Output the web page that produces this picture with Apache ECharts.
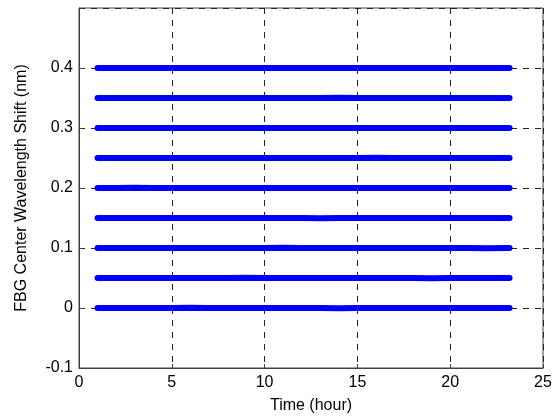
<!DOCTYPE html>
<html><head><meta charset="utf-8">
<script src="https://cdn.jsdelivr.net/npm/echarts@6/dist/echarts.min.js"></script>
<style>html,body{margin:0;padding:0;background:#fff}#c{width:555px;height:420px}</style>
</head><body><div id="c"></div>
<script>
var time = [1,2,3,4,5,6,7,8,9,10,11,12,13,14,15,16,17,18,19,20,21,22,23,23.2];
var xTicks = [0,5,10,15,20,25];
var yTicks = [-0.1,0,0.1,0.2,0.3,0.4];
var shift000 = [0.000,0.000,0.000,0.000,0.000,0.0005,0.000,0.000,0.000,0.000,0.000,0.000,0.000,-0.0005,0.000,0.000,0.000,0.000,0.000,0.000,0.000,0.000,0.000,0.000];
var shift005 = [0.050,0.050,0.050,0.050,0.050,0.050,0.050,0.050,0.0505,0.050,0.050,0.050,0.050,0.050,0.050,0.050,0.050,0.050,0.0495,0.050,0.050,0.050,0.050,0.050];
var shift010 = [0.100,0.100,0.100,0.100,0.100,0.100,0.100,0.100,0.100,0.100,0.1005,0.100,0.100,0.100,0.100,0.100,0.100,0.100,0.100,0.100,0.100,0.0995,0.100,0.100];
var shift015 = [0.150,0.150,0.150,0.150,0.150,0.150,0.150,0.150,0.150,0.150,0.150,0.150,0.1495,0.150,0.150,0.150,0.150,0.150,0.150,0.150,0.150,0.150,0.150,0.150];
var shift020 = [0.200,0.200,0.2005,0.200,0.200,0.200,0.200,0.200,0.200,0.200,0.200,0.200,0.200,0.200,0.200,0.200,0.200,0.200,0.200,0.200,0.200,0.200,0.200,0.200];
var shift025 = [0.250,0.250,0.250,0.250,0.250,0.250,0.250,0.250,0.250,0.250,0.250,0.250,0.250,0.250,0.250,0.2505,0.250,0.250,0.250,0.250,0.250,0.250,0.250,0.250];
var shift030 = [0.300,0.300,0.300,0.300,0.300,0.300,0.300,0.300,0.300,0.300,0.300,0.300,0.300,0.300,0.300,0.300,0.300,0.300,0.300,0.300,0.300,0.300,0.300,0.300];
var shift035 = [0.350,0.350,0.350,0.350,0.350,0.350,0.350,0.350,0.350,0.350,0.350,0.350,0.350,0.3505,0.350,0.350,0.350,0.350,0.350,0.350,0.350,0.350,0.350,0.350];
var shift040 = [0.400,0.400,0.400,0.400,0.400,0.400,0.400,0.400,0.400,0.400,0.400,0.400,0.400,0.400,0.400,0.400,0.400,0.400,0.400,0.400,0.400,0.400,0.400,0.400];
var seriesList = [shift000,shift005,shift010,shift015,shift020,shift025,shift030,shift035,shift040];

var chart = echarts.init(document.getElementById('c'), null, {renderer:'canvas'});
var font = 'Liberation Sans, Arial, sans-serif';
var axisCol = '#404040';
function fmt(v){ var r = Math.round(v*10)/10; if (Math.abs(r-0.5)<1e-9) return ''; return String(r); }
chart.setOption({
  animation:false,
  grid:{left:79,right:12,top:8,bottom:52,show:true,borderColor:axisCol,borderWidth:1},
  xAxis:{type:'value',min:0,max:25,interval:5,
    name:'Time (hour)',nameLocation:'middle',nameGap:30,
    nameTextStyle:{fontFamily:font,fontSize:16,color:'#000'},
    axisLine:{show:true,onZero:false,lineStyle:{color:axisCol}},
    axisTick:{show:true,inside:true,length:4,lineStyle:{color:axisCol}},
    axisLabel:{fontFamily:font,fontSize:16,color:'#000',margin:7},
    splitLine:{show:true,lineStyle:{color:'#222',type:[6,6],width:1}}},
  yAxis:{type:'value',min:-0.1,max:0.5,interval:0.1,
    name:'FBG Center Wavelength Shift (nm)',nameLocation:'middle',nameGap:49,
    nameTextStyle:{fontFamily:font,fontSize:16,color:'#000'},
    axisLine:{show:true,onZero:false,lineStyle:{color:axisCol}},
    axisTick:{show:true,inside:true,length:4,lineStyle:{color:axisCol}},
    axisLabel:{fontFamily:font,fontSize:16,color:'#000',margin:6,formatter:fmt},
    splitLine:{show:true,lineStyle:{color:'#222',type:[6,6],width:1}}},
  series: seriesList.map(function(s){
    return {type:'line',data:time.map(function(t,i){return [t,s[i]];}),
      showSymbol:false,symbol:'none',
      lineStyle:{color:'#0000ff',width:6,cap:'round'},z:3};
  })
});
</script></body></html>
